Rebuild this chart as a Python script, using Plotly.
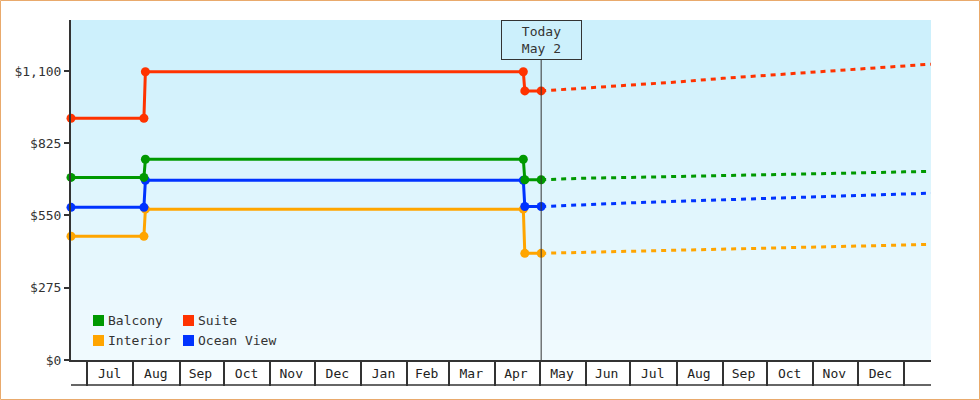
import plotly.graph_objects as go

# actual fares (step changes)
actual_dates = ["2024-06-20", "2024-08-08", "2024-08-09", "2025-04-20", "2025-04-21", "2025-05-02"]
balcony = [695, 695, 764, 764, 686, 686]
suite = [920, 920, 1097, 1097, 1024, 1024]
ocean_view = [581, 581, 684, 684, 584, 584]
interior = [471, 471, 574, 574, 406, 406]

# projected fares
forecast_dates = ["2025-05-02", "2025-06-01", "2025-07-01", "2025-08-01", "2025-09-01",
                  "2025-10-01", "2025-11-01", "2025-12-01", "2026-01-01", "2026-01-19"]
balcony_fc = [686, 692, 695, 698, 701, 705, 709, 712, 716, 718]
suite_fc = [1024, 1035, 1047, 1058, 1072, 1083, 1095, 1106, 1119, 1126]
ocean_view_fc = [584, 592, 598, 604, 610, 616, 622, 627, 632, 635]
interior_fc = [406, 410, 414, 419, 423, 428, 432, 435, 438, 440]

month_ticks = ["2024-07-16", "2024-08-16", "2024-09-15", "2024-10-16", "2024-11-15", "2024-12-16",
               "2025-01-16", "2025-02-14", "2025-03-16", "2025-04-15", "2025-05-16", "2025-06-15",
               "2025-07-16", "2025-08-16", "2025-09-15", "2025-10-16", "2025-11-15", "2025-12-16"]
month_labels = ["Jul", "Aug", "Sep", "Oct", "Nov", "Dec", "Jan", "Feb", "Mar", "Apr",
                "May", "Jun", "Jul", "Aug", "Sep", "Oct", "Nov", "Dec"]
y_ticks = [0, 275, 550, 825, 1100]

today = "2025-05-02"
FONT = "DejaVu Sans Mono"
INK = "#333333"

series = [
    ("Interior", interior, interior_fc, "#ffa500"),
    ("Ocean View", ocean_view, ocean_view_fc, "#0033ff"),
    ("Balcony", balcony, balcony_fc, "#009900"),
    ("Suite", suite, suite_fc, "#ff3300"),
]

# plot area in pixels
L, R, T, B = 71, 49, 20, 40
W, H = 980, 400
PW, PH = W - L - R, H - T - B


def px_x(x):
    return (x - L) / PW


def px_y(y):
    return (H - B - y) / PH


fig = go.Figure()

for name, vals, fc, color in series:
    fig.add_trace(go.Scatter(x=forecast_dates, y=fc, mode="lines", showlegend=False,
                             line=dict(color=color, width=3, dash="5px,5px")))
    fig.add_trace(go.Scatter(x=actual_dates, y=vals, mode="lines+markers", name=name,
                             showlegend=False, cliponaxis=False, line=dict(color=color, width=3),
                             marker=dict(color=color, size=9, symbol="circle")))

# vertical gradient background
top_rgb = (204, 240, 252)
bot_rgb = (240, 250, 254)
bands = 34
for i in range(bands):
    t = i / (bands - 1)
    c = tuple(round(top_rgb[k] + (bot_rgb[k] - top_rgb[k]) * t) for k in range(3))
    fig.add_shape(type="rect", xref="paper", yref="paper", layer="below",
                  x0=0, x1=1, y0=1 - (i + 1) / bands, y1=1 - i / bands,
                  fillcolor="rgb(%d,%d,%d)" % c, line=dict(width=0))

# today marker line
fig.add_shape(type="line", xref="x", yref="paper", x0=today, x1=today, y0=0, y1=1,
              line=dict(color=INK, width=1))
fig.add_annotation(x=today, xref="x", y=1, yref="paper", yanchor="top", showarrow=False,
                   text="Today<br>May 2", width=79, height=38, borderpad=0,
                   bordercolor=INK, borderwidth=1, bgcolor="rgb(204,240,252)",
                   font=dict(family=FONT, size=13, color=INK))

# bottom line of the month strip
fig.add_shape(type="line", xref="paper", yref="paper", x0=0, x1=1,
              y0=px_y(385), y1=px_y(385), line=dict(color=INK, width=1.5))

# outer frame
fig.add_shape(type="rect", xref="paper", yref="paper",
              x0=px_x(0.5), x1=px_x(W - 0.5), y0=px_y(H - 0.5), y1=px_y(0.5),
              line=dict(color="#e9aa6c", width=1))

# legend, two columns
legend_pos = {"Balcony": (93, 315), "Suite": (183, 315),
              "Interior": (93, 335), "Ocean View": (183, 335)}
for name, vals, fc, color in series:
    lx, ly = legend_pos[name]
    fig.add_shape(type="rect", xref="paper", yref="paper",
                  x0=px_x(lx), x1=px_x(lx + 11), y0=px_y(ly + 11), y1=px_y(ly),
                  fillcolor=color, line=dict(width=0))
    fig.add_annotation(x=px_x(lx + 13), y=px_y(ly + 5.5), xref="paper", yref="paper",
                       xanchor="left", yanchor="middle", showarrow=False, text=name,
                       font=dict(family=FONT, size=13, color=INK))

fig.update_layout(
    width=W, height=H,
    margin=dict(l=L, r=R, t=T, b=B),
    paper_bgcolor="white",
    plot_bgcolor="rgb(240,250,254)",
    font=dict(family=FONT, size=13, color=INK),
    showlegend=False,
    xaxis=dict(
        type="date", range=["2024-06-20", "2026-01-19"],
        tickmode="array", tickvals=month_ticks, ticktext=month_labels,
        ticks="", showgrid=False, zeroline=False,
        showline=True, linecolor=INK, linewidth=2,
        minor=dict(ticks="outside", ticklen=24, tickwidth=1.5, tickcolor=INK,
                   dtick="M1", tick0="2024-07-01", showgrid=False),
        tickfont=dict(family=FONT, size=13, color="#222222"),
    ),
    yaxis=dict(
        range=[0, 1294], tickmode="array", tickvals=y_ticks, tickformat="$,",
        ticks="outside", ticklen=5, tickwidth=2, tickcolor=INK,
        showgrid=False, zeroline=False,
        showline=True, linecolor=INK, linewidth=2,
        tickfont=dict(family=FONT, size=13, color=INK),
    ),
)

fig.write_html("out.html", config={"displayModeBar": False},
               post_script="document.body.style.margin = '0';")
